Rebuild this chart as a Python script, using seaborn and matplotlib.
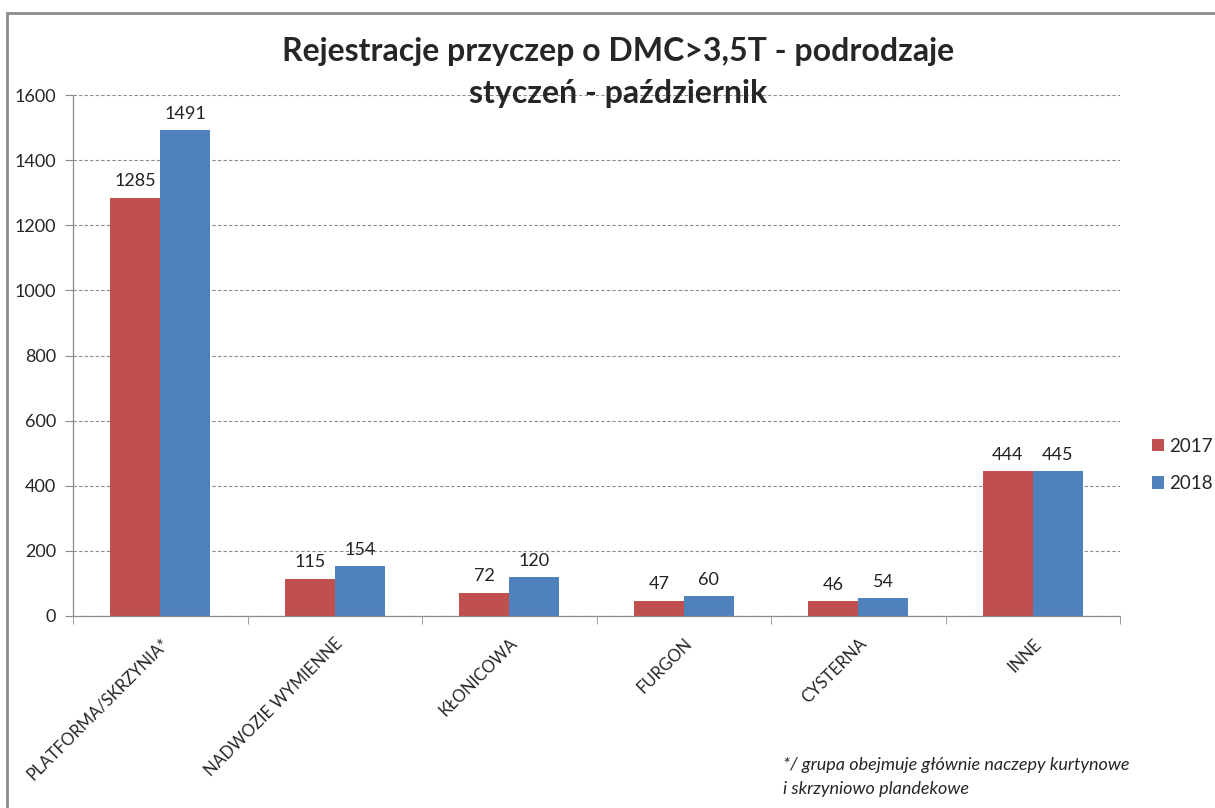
import matplotlib
matplotlib.use('Agg')
import matplotlib.pyplot as plt
import matplotlib.patches as mpatches
from matplotlib.ticker import FixedLocator
import pandas as pd
import seaborn as sns

# data
categories = ['PLATFORMA/SKRZYNIA*', 'NADWOZIE WYMIENNE', 'KŁONICOWA', 'FURGON', 'CYSTERNA', 'INNE']
values_2017 = [1285, 115, 72, 47, 46, 444]
values_2018 = [1491, 154, 120, 60, 54, 445]
years = ['2017', '2018']
colors = ['#C0504D', '#4F81BD']

df = pd.DataFrame({
    'kategoria': categories * 2,
    'rok': [years[0]] * len(categories) + [years[1]] * len(categories),
    'liczba': values_2017 + values_2018,
})

sns.set_style('white')
plt.rcParams['font.family'] = ['Lato', 'DejaVu Sans']

fig = plt.figure(figsize=(12.15, 8.08), dpi=100)
W, H = 1215, 808
ax = fig.add_axes([73 / W, 1 - 616 / H, (1120 - 73) / W, (616 - 95) / H])

sns.barplot(data=df, x='kategoria', y='liczba', hue='rok', palette=colors,
            width=0.573, saturation=1, linewidth=0, ax=ax, legend=True)

for cont in ax.containers:
    ax.bar_label(cont, padding=6, fontsize=13, color='#222222')

ax.set_ylim(0, 1600)
ax.set_xlim(-0.5, len(categories) - 0.5)
ax.set_yticks(range(0, 1601, 200))
ax.yaxis.grid(True, linestyle=(0, (3, 2)), color='#8c8c8c', linewidth=0.8)
ax.set_axisbelow(True)
ax.tick_params(axis='y', labelsize=13, length=6, color='#8c8c8c', left=True, pad=6)

# category ticks at the boundaries, labels rotated
ax.set_xticks(range(len(categories)))
ax.set_xticklabels(categories, rotation=45, ha='right', rotation_mode='anchor', fontsize=12)
ax.tick_params(axis='x', which='major', length=0, pad=14)
ax.xaxis.set_minor_locator(FixedLocator([i - 0.5 for i in range(len(categories) + 1)]))
ax.tick_params(axis='x', which='minor', length=6, color='#8c8c8c', bottom=True)

ax.set_xlabel('')
ax.set_ylabel('')
for s in ['top', 'right']:
    ax.spines[s].set_visible(False)
for s in ['left', 'bottom']:
    ax.spines[s].set_color('#8c8c8c')
    ax.spines[s].set_linewidth(0.9)

handles, labels = ax.get_legend_handles_labels()
ax.get_legend().remove()
fig.legend(handles, labels, loc='center left', bbox_to_anchor=(1152 / W, 1 - 465 / H),
           frameon=False, fontsize=13.5, handlelength=0.65, handleheight=0.65,
           handletextpad=0.25, labelspacing=1.1, borderpad=0, borderaxespad=0)

fig.text(618 / W, 1 - 52 / H, 'Rejestracje przyczep o DMC>3,5T - podrodzaje',
         ha='center', va='center', fontsize=23, fontweight='bold')
fig.text(618 / W, 1 - 93 / H, 'styczeń - październik',
         ha='center', va='center', fontsize=23, fontweight='bold')

fig.text(783 / W, 1 - 765 / H, '*/ grupa obejmuje głównie naczepy kurtynowe',
         ha='left', va='center', fontsize=13, style='italic')
fig.text(783 / W, 1 - 789 / H, 'i skrzyniowo plandekowe',
         ha='left', va='center', fontsize=13, style='italic')

# chart frame
frame = mpatches.Rectangle((7 / W, -0.01), 1.1, 1 - 13 / H + 0.01, transform=fig.transFigure,
                           fill=False, edgecolor='#8c8c8c', linewidth=2)
fig.patches.append(frame)

fig.savefig('out.png', dpi=100)
